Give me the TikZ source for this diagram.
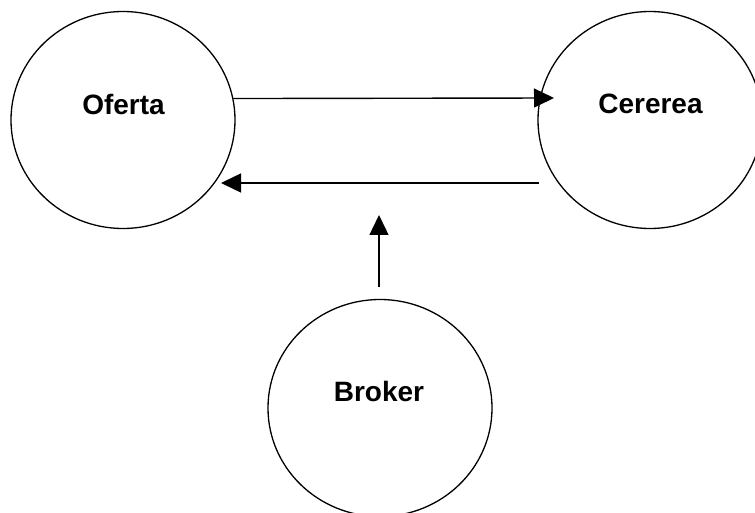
\documentclass[tikz,border=0pt]{standalone}
\usepackage{fontspec}
\setmainfont{Liberation Sans}
\usetikzlibrary{shapes.geometric,arrows.meta}
\begin{document}
\begin{tikzpicture}[x=1pt,y=1pt,
  bubble/.style={ellipse, draw, line width=1.3pt, minimum width=224pt, minimum height=217pt, inner sep=0pt},
  lbl/.style={font=\bfseries\fontsize{28}{30}\selectfont, anchor=base, inner sep=0pt},
  arr/.style={line width=1.4pt, -{Triangle[length=20pt,width=19pt]}}]
\clip (0,0) rectangle (755,512);
\node[bubble] (of) at (123,392) {};
\node[bubble] (ce) at (650,392) {};
\node[bubble] (br) at (380,104) {};
\node[lbl] (ofl) at (123.5,397) {Oferta};
\node[lbl] (cel) at (650.5,398.5) {Cererea};
\node[lbl] (brl) at (379,111) {Broker};
\coordinate (topend) at (554,414);
\coordinate (botstart) at (539,329);
\coordinate (botend) at (221,329);
\coordinate (upstart) at (379,225);
\coordinate (upend) at (379,297);
\draw[arr] (of.11.3) -- (topend);
\draw[arr] (botstart) -- (botend);
\draw[arr] (upstart) -- (upend);
\end{tikzpicture}
\end{document}
